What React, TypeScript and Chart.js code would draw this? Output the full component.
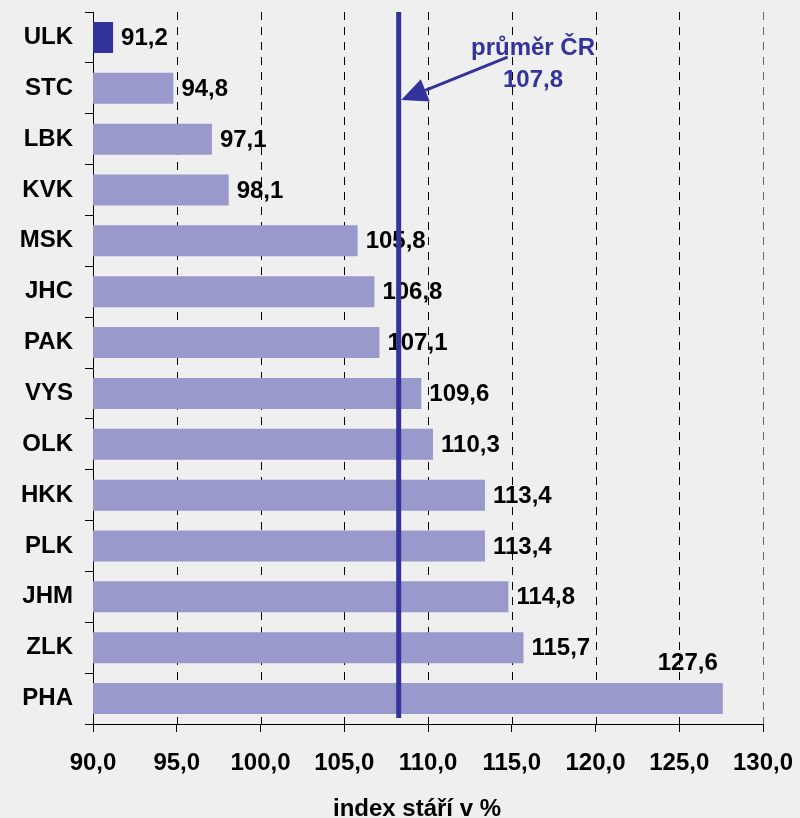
import React, { useEffect, useRef } from 'react';
import { Chart, registerables } from 'chart.js';

Chart.register(...registerables);

// ---- data ----
const REGIONS = ['ULK', 'STC', 'LBK', 'KVK', 'MSK', 'JHC', 'PAK', 'VYS', 'OLK', 'HKK', 'PLK', 'JHM', 'ZLK', 'PHA'];
const INDEX_VALUES = [91.2, 94.8, 97.1, 98.1, 105.8, 106.8, 107.1, 109.6, 110.3, 113.4, 113.4, 114.8, 115.7, 127.6];
const HIGHLIGHT_REGION = 'ULK';
const LABEL_ABOVE_REGION = 'PHA';
const X_MIN = 90;
const X_MAX = 130;
const X_STEP = 5;
const CR_AVERAGE = 107.8; // value shown in the annotation
const CR_LINE_AT = 108.25; // where the average line sits in the picture
const AVG_LABEL = 'průměr ČR';
const X_TITLE = 'index stáří v %';

const FAMILY = '"Liberation Sans", Arial, Helvetica, sans-serif';
const FONT = `bold 24px ${FAMILY}`;
const DARK = '#333399';
const LIGHT = '#9999cc';

const fmt = (v: number) => v.toFixed(1).replace('.', ',');

const overlay = {
  id: 'overlay',
  beforeDatasetsDraw(chart: any) {
    const { ctx, chartArea: ca, scales } = chart;
    const x = scales.x;
    ctx.save();
    ctx.lineWidth = 1;
    ctx.setLineDash([8, 7]);
    for (let v = X_MIN + X_STEP; v <= X_MAX; v += X_STEP) {
      const px = Math.round(x.getPixelForValue(v)) + 0.5;
      ctx.strokeStyle = v === X_MAX ? '#666' : '#000';
      ctx.beginPath();
      ctx.moveTo(px, ca.top);
      ctx.lineTo(px, ca.bottom);
      ctx.stroke();
    }
    ctx.restore();
  },
  afterDatasetsDraw(chart: any) {
    const { ctx, chartArea: ca, scales } = chart;
    const x = scales.x;
    const y = scales.y;
    const meta = chart.getDatasetMeta(0);

    // value labels
    ctx.save();
    ctx.font = FONT;
    ctx.fillStyle = '#000';
    meta.data.forEach((bar: any, i: number) => {
      const text = fmt(INDEX_VALUES[i]);
      if (REGIONS[i] === LABEL_ABOVE_REGION) {
        ctx.textAlign = 'center';
        ctx.textBaseline = 'alphabetic';
        ctx.fillText(text, bar.x - 35, bar.y - bar.height / 2 - 13);
      } else {
        ctx.textAlign = 'left';
        ctx.textBaseline = 'middle';
        ctx.fillText(text, bar.x + 8, bar.y + 1);
      }
    });
    ctx.restore();

    // average line
    const lx = x.getPixelForValue(CR_LINE_AT);
    ctx.save();
    ctx.strokeStyle = DARK;
    ctx.lineWidth = 5;
    ctx.beginPath();
    ctx.moveTo(lx, ca.top);
    ctx.lineTo(lx, ca.bottom - 6);
    ctx.stroke();

    // annotation
    const y0 = y.getPixelForValue(0);
    const labelX = x.getPixelForValue(116.27);
    ctx.fillStyle = DARK;
    ctx.font = FONT;
    ctx.textAlign = 'center';
    ctx.textBaseline = 'middle';
    ctx.fillText(AVG_LABEL, labelX, y0 + 11);
    ctx.fillText(fmt(CR_AVERAGE), labelX, y0 + 42.5);

    // arrow
    const sx = x.getPixelForValue(114.75);
    const sy = y0 + 19.6;
    const tx = lx + 2.5;
    const ty = y0 + 62.6;
    const ang = Math.atan2(ty - sy, tx - sx);
    const headLen = 26;
    const headHalf = 12;
    const bx = tx - headLen * Math.cos(ang);
    const by = ty - headLen * Math.sin(ang);
    ctx.strokeStyle = DARK;
    ctx.lineWidth = 3;
    ctx.beginPath();
    ctx.moveTo(sx, sy);
    ctx.lineTo(bx, by);
    ctx.stroke();
    ctx.beginPath();
    ctx.moveTo(tx, ty);
    ctx.lineTo(bx + headHalf * Math.sin(ang), by - headHalf * Math.cos(ang));
    ctx.lineTo(bx - headHalf * Math.sin(ang), by + headHalf * Math.cos(ang));
    ctx.closePath();
    ctx.fill();
    ctx.restore();
  },
  afterDraw(chart: any) {
    const { ctx, chartArea: ca } = chart;
    ctx.save();
    ctx.font = FONT;
    ctx.fillStyle = '#000';
    ctx.textAlign = 'center';
    ctx.textBaseline = 'alphabetic';
    ctx.fillText(X_TITLE, (ca.left + ca.right) / 2 - 11, ca.bottom + 92);
    ctx.restore();
  },
};

export default function App() {
  const ref = useRef<HTMLCanvasElement | null>(null);

  useEffect(() => {
    if (!ref.current) return;
    const chart = new Chart(ref.current, {
      type: 'bar',
      data: {
        labels: REGIONS,
        datasets: [
          {
            data: INDEX_VALUES,
            backgroundColor: REGIONS.map((r) => (r === HIGHLIGHT_REGION ? DARK : LIGHT)),
            borderWidth: 0,
            barPercentage: 0.61,
            categoryPercentage: 1,
          },
        ],
      },
      options: {
        indexAxis: 'y',
        animation: false,
        responsive: false,
        devicePixelRatio: 1,
        layout: { padding: { top: 12, right: 37, left: 0, bottom: 0 } },
        plugins: { legend: { display: false }, tooltip: { enabled: false } },
        scales: {
          x: {
            type: 'linear',
            min: X_MIN,
            max: X_MAX,
            ticks: {
              stepSize: X_STEP,
              color: '#000',
              padding: 17,
              font: { family: FAMILY, size: 24, weight: 'bold' },
              callback: (v: any) => fmt(Number(v)),
            },
            grid: { drawOnChartArea: false, drawTicks: true, tickLength: 8, color: '#000', lineWidth: 1 },
            border: { display: true, color: '#000', width: 1 },
            afterFit: (s: any) => {
              s.height = 94;
              s.paddingLeft = 0;
              s.paddingRight = 0;
            },
          },
          y: {
            type: 'category',
            offset: true,
            ticks: {
              color: '#000',
              padding: 12,
              font: { family: FAMILY, size: 24, weight: 'bold' },
            },
            grid: { drawOnChartArea: false, drawTicks: true, tickLength: 8, color: '#000', lineWidth: 1, offset: true },
            border: { display: true, color: '#000', width: 1 },
            afterFit: (s: any) => {
              s.width = 93;
              s.paddingTop = 0;
              s.paddingBottom = 0;
            },
          },
        },
      },
      plugins: [overlay],
    });
    return () => chart.destroy();
  }, []);

  return (
    <div style={{ position: 'fixed', left: 0, top: 0, width: 800, height: 818, background: '#efefef' }}>
      <canvas ref={ref} width={800} height={818} style={{ display: 'block' }} />
    </div>
  );
}
